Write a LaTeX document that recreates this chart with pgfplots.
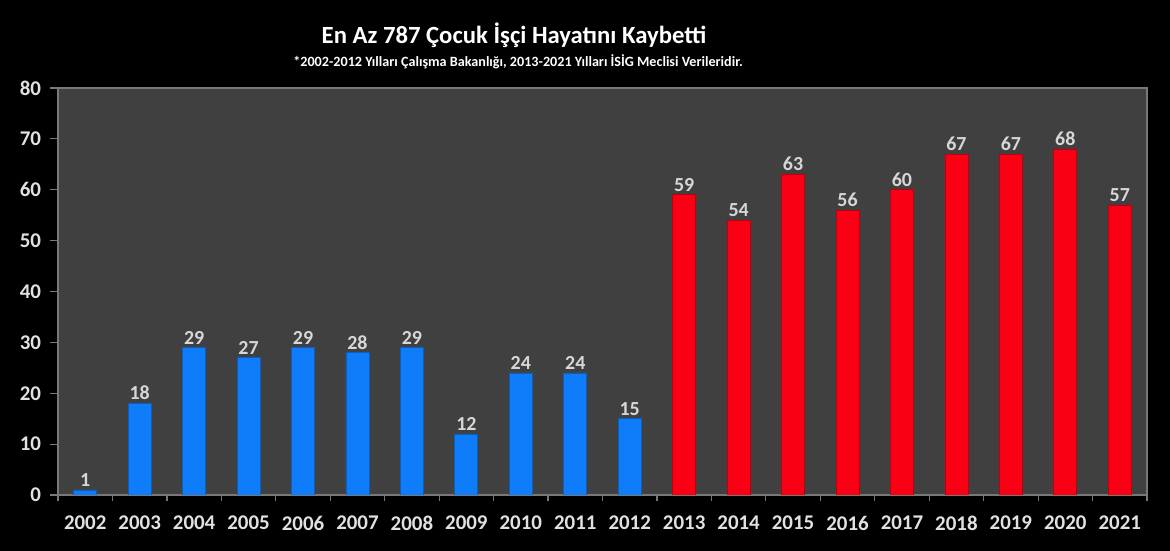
\documentclass[border=0pt]{standalone}
\usepackage{pgfplots}
\pgfplotsset{compat=1.18}
\usepackage{fontspec}
\setmainfont{Carlito}
\definecolor{plotbg}{RGB}{64,64,64}
\definecolor{barblue}{RGB}{15,125,250}
\definecolor{barred}{RGB}{250,0,20}
\definecolor{txt}{RGB}{225,225,225}
\definecolor{axgray}{RGB}{120,120,120}
\begin{document}
\begin{tikzpicture}
\fill[black] (0,0) rectangle (585bp,275.5bp);
\begin{axis}[
  at={(29bp,28bp)}, anchor=south west,
  scale only axis, width=544.5bp, height=203.5bp,
  xmin=-0.5, xmax=19.5, ymin=0, ymax=80,
  ytick={0,10,...,80},
  xtick={0,...,19},
  xticklabels={2002,2003,2004,2005,2006,2007,2008,2009,2010,2011,2012,2013,2014,2015,2016,2017,2018,2019,2020,2021},
  minor xtick={-0.5,0.5,...,19.5},
  every major x tick/.append style={draw=none},
  tick align=outside, major tick length=4bp, minor tick length=3bp,
  xtick pos=bottom, ytick pos=left,
  tick style={axgray, line width=0.6bp},
  axis background/.style={fill=plotbg},
  axis line style={axgray, line width=0.6bp},
  ticklabel style={txt, font=\bfseries\fontsize{10.5}{12}\selectfont},
  xticklabel style={yshift=-3bp},
  yticklabel style={xshift=-1bp},
  ybar, bar shift=0pt, bar width=11.5bp,
  nodes near coords,
  every node near coord/.append style={txt!90!gray, inner sep=1.5bp, font=\bfseries\fontsize{10}{12}\selectfont},
  /pgf/number format/assume math mode=true,
]
\addplot[fill=barblue, draw=barblue!75!black, line width=0.4bp] coordinates {
  (0,1) (1,18) (2,29) (3,27) (4,29) (5,28) (6,29) (7,12) (8,24) (9,24) (10,15)};
\addplot[fill=barred, draw=barred!75!black, line width=0.4bp] coordinates {
  (11,59) (12,54) (13,63) (14,56) (15,60) (16,67) (17,67) (18,68) (19,57)};
\end{axis}
\node[white, font=\bfseries\fontsize{12.4}{15}\selectfont] at (257bp,258bp) {En Az 787 Çocuk İşçi Hayatını Kaybetti};
\node[white, font=\bfseries\fontsize{7.1}{8}\selectfont] at (259bp,244.5bp) {*2002-2012 Yılları Çalışma Bakanlığı, 2013-2021 Yılları İSİG Meclisi Verileridir.};
\end{tikzpicture}
\end{document}
